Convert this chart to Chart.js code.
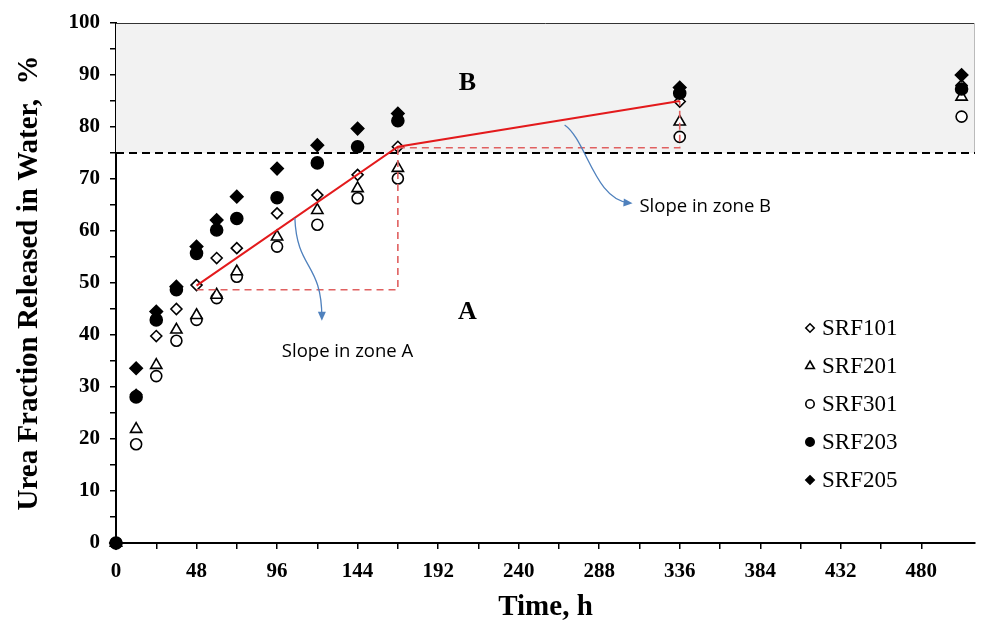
<!DOCTYPE html>
<html>
<head>
<meta charset="utf-8">
<script src="https://cdn.jsdelivr.net/npm/chart.js@4.4.1/dist/chart.umd.min.js"></script>
<style>
  html, body { margin: 0; padding: 0; background: #fff; }
  #wrap { width: 984px; height: 626px; }
</style>
</head>
<body>
<div id="wrap"><canvas id="releaseChart"></canvas></div>
<script>
// Sampling times (h)
const times = [0, 12, 24, 36, 48, 60, 72, 96, 120, 144, 168, 336, 504];

// Urea fraction released in water (%)
const srf101 = [0, 28.5, 39.8, 45.0, 49.6, 54.8, 56.7, 63.4, 66.9, 70.8, 76.2, 84.9, 88.0];
const srf201 = [0, 21.9, 34.2, 41.0, 43.8, 47.7, 52.2, 58.9, 64.0, 68.2, 72.1, 81.0, 85.8];
const srf301 = [0, 19.0, 32.1, 38.9, 42.9, 47.1, 51.2, 57.0, 61.2, 66.3, 70.1, 78.1, 82.0];
const srf203 = [0, 28.1, 42.9, 48.7, 55.7, 60.2, 62.4, 66.4, 73.1, 76.2, 81.2, 86.5, 87.3];
const srf205 = [0, 33.6, 44.5, 49.3, 57.0, 62.1, 66.6, 72.0, 76.5, 79.7, 82.6, 87.6, 90.0];

// Slope lines for zone A and zone B
const slopeX = [48, 168, 336];
const slopeY = [49.5, 76.2, 85.0];
const guideAX = [48, 168, 168];
const guideAY = [48.7, 48.7, 76.2];
const guideBX = [168, 336, 336];
const guideBY = [76.0, 76.0, 85.0];

// Boundary between zone A and zone B
const zoneLimit = 75;
const xMax = 512;

const toPoints = (xs, ys) => xs.map((x, i) => ({ x: x, y: ys[i] }));

const serif = "'Liberation Serif', 'Times New Roman', serif";
const sans = "'Open Sans', 'Noto Sans', sans-serif";

function series(label, values, style, radius, filled) {
    return {
        label: label,
        data: toPoints(times, values),
        showLine: false,
        pointStyle: style,
        pointRadius: radius,
        pointHoverRadius: radius,
        pointBorderWidth: 1.6,
        borderColor: '#000',
        pointBorderColor: '#000',
        pointBackgroundColor: filled ? '#000' : '#fff',
        clip: false,
        // filled markers sit on top of the open ones
        order: filled ? 2 : 3
    };
}

function guide(xs, ys, color, width, dash) {
    return {
        label: '',
        data: toPoints(xs, ys),
        showLine: true,
        borderColor: color,
        borderWidth: width,
        borderDash: dash,
        pointRadius: 0,
        fill: false,
        order: 1
    };
}

// Grey zone B background and top border
const zonePlugin = {
    id: 'zoneBackground',
    beforeDatasetsDraw(chart) {
        const { ctx, chartArea, scales } = chart;
        const top = scales.y.getPixelForValue(100);
        const bottom = scales.y.getPixelForValue(zoneLimit);
        ctx.save();
        ctx.fillStyle = '#f2f2f2';
        ctx.fillRect(chartArea.left, top, chartArea.right - chartArea.left, bottom - top);
        ctx.strokeStyle = '#333';
        ctx.lineWidth = 1;
        ctx.beginPath();
        ctx.moveTo(chartArea.left, top + 0.5);
        ctx.lineTo(chartArea.right, top + 0.5);
        ctx.stroke();
        ctx.strokeStyle = '#bbb';
        ctx.beginPath();
        ctx.moveTo(chartArea.right - 0.5, top);
        ctx.lineTo(chartArea.right - 0.5, bottom);
        ctx.stroke();
        ctx.restore();
    }
};

// Zone letters, slope notes and curved blue arrows
const notes = [
    { text: 'B', x: 209.5, y: 88.5, font: 'bold 26px ' + serif, align: 'center' },
    { text: 'A', x: 209.5, y: 44.4, font: 'bold 26px ' + serif, align: 'center' },
    { text: 'Slope in zone A', x: 138, y: 36.7, font: '18.5px ' + sans, align: 'center' },
    { text: 'Slope in zone B', x: 312, y: 64.6, font: '18.5px ' + sans, align: 'left' }
];
const arrows = [
    [[106.6, 62.5], [107.8, 52.5], [122.7, 54.0], [122.7, 43.3]],
    [[267.4, 80.4], [280.5, 77.5], [285.3, 65.9], [306.1, 65.4]]
];

const notePlugin = {
    id: 'notes',
    afterDatasetsDraw(chart) {
        const { ctx, scales } = chart;
        const px = v => scales.x.getPixelForValue(v);
        const py = v => scales.y.getPixelForValue(v);
        ctx.save();
        ctx.fillStyle = '#000';
        ctx.textBaseline = 'middle';
        notes.forEach(n => {
            ctx.font = n.font;
            ctx.textAlign = n.align;
            ctx.fillText(n.text, px(n.x), py(n.y));
        });
        ctx.strokeStyle = '#4f81bd';
        ctx.fillStyle = '#4f81bd';
        ctx.lineWidth = 1.3;
        arrows.forEach(a => {
            const p = a.map(q => [px(q[0]), py(q[1])]);
            ctx.beginPath();
            ctx.moveTo(p[0][0], p[0][1]);
            ctx.bezierCurveTo(p[1][0], p[1][1], p[2][0], p[2][1], p[3][0], p[3][1]);
            ctx.stroke();
            const ang = Math.atan2(p[3][1] - p[2][1], p[3][0] - p[2][0]);
            const len = 9, half = 4;
            const tipX = p[3][0] + Math.cos(ang) * 3, tipY = p[3][1] + Math.sin(ang) * 3;
            ctx.beginPath();
            ctx.moveTo(tipX, tipY);
            ctx.lineTo(tipX - len * Math.cos(ang) - half * Math.sin(ang), tipY - len * Math.sin(ang) + half * Math.cos(ang));
            ctx.lineTo(tipX - len * Math.cos(ang) + half * Math.sin(ang), tipY - len * Math.sin(ang) - half * Math.cos(ang));
            ctx.closePath();
            ctx.fill();
        });
        ctx.restore();
    }
};

// Legend drawn inside the plot, lower right
const legendPlugin = {
    id: 'insideLegend',
    afterDraw(chart) {
        const { ctx } = chart;
        const x0 = 810, y0 = 328, rowH = 38;
        ctx.save();
        ctx.font = '23px ' + serif;
        ctx.textBaseline = 'middle';
        ctx.textAlign = 'left';
        chart.data.datasets.slice(0, 5).forEach((ds, i) => {
            const y = y0 + i * rowH;
            ctx.fillStyle = ds.pointBackgroundColor;
            ctx.strokeStyle = '#000';
            ctx.lineWidth = 1.6;
            Chart.helpers.drawPoint(ctx, {
                pointStyle: ds.pointStyle,
                radius: ds.pointStyle === 'triangle' ? 5 : 4.2,
                rotation: 0,
                borderWidth: 1.6
            }, x0, y);
            ctx.fillStyle = '#000';
            ctx.fillText(ds.label, x0 + 12, y + 1);
        });
        ctx.restore();
    }
};

const ctx = document.getElementById('releaseChart').getContext('2d');
const releaseChart = new Chart(ctx, {
    type: 'scatter',
    data: {
        datasets: [
            series('SRF101', srf101, 'rectRot', 5.5, false),
            series('SRF201', srf201, 'triangle', 6.5, false),
            series('SRF301', srf301, 'circle', 5.5, false),
            series('SRF203', srf203, 'circle', 6, true),
            series('SRF205', srf205, 'rectRot', 6.2, true),
            guide(slopeX, slopeY, '#e31a1c', 2, []),
            guide(guideAX, guideAY, '#e06060', 1.6, [7, 5]),
            guide(guideBX, guideBY, '#e06060', 1.6, [7, 5]),
            guide([0, xMax], [zoneLimit, zoneLimit], '#000', 2, [8, 5])
        ]
    },
    options: {
        responsive: true,
        maintainAspectRatio: false,
        animation: false,
        layout: { padding: { top: 23, right: 9, left: 0, bottom: 0 } },
        plugins: {
            legend: { display: false },
            tooltip: { enabled: false }
        },
        scales: {
            x: {
                type: 'linear',
                min: 0,
                max: xMax,
                afterBuildTicks: s => { s.ticks = s.ticks.filter(t => t.value % 24 === 0); },
                afterFit: s => { s.height = 83; },
                ticks: {
                    stepSize: 24,
                    autoSkip: false,
                    maxRotation: 0,
                    padding: 10,
                    color: '#000',
                    font: { family: serif, size: 21, weight: 'bold' },
                    callback: v => (v % 48 === 0 ? v : '')
                },
                grid: { drawOnChartArea: false, drawTicks: true, tickLength: 6, color: '#000', lineWidth: 1.5 },
                border: { color: '#000', width: 2 },
                title: {
                    display: true,
                    text: 'Time, h',
                    color: '#000',
                    padding: { top: 0, bottom: 1 },
                    font: { family: serif, size: 29, weight: 'bold' }
                }
            },
            y: {
                min: 0,
                max: 100,
                afterFit: s => { s.width = 116; },
                ticks: {
                    stepSize: 5,
                    autoSkip: false,
                    padding: 10,
                    color: '#000',
                    font: { family: serif, size: 21, weight: 'bold' },
                    callback: v => (v % 10 === 0 ? v : '')
                },
                grid: { drawOnChartArea: false, drawTicks: true, tickLength: 6, color: '#000', lineWidth: 1.5 },
                border: { color: '#000', width: 2 },
                title: {
                    display: true,
                    text: 'Urea Fraction Released in Water,  %',
                    color: '#000',
                    padding: { top: 12, bottom: 0 },
                    font: { family: serif, size: 29, weight: 'bold' }
                }
            }
        }
    },
    plugins: [zonePlugin, notePlugin, legendPlugin]
});
</script>
</body>
</html>
